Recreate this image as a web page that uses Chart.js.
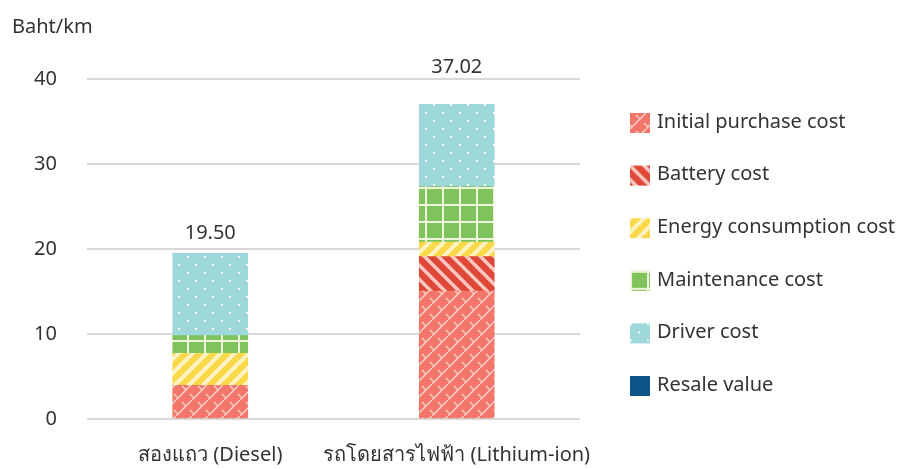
<!DOCTYPE html>
<html>
<head>
<meta charset="utf-8">
<script src="https://cdn.jsdelivr.net/npm/chart.js@4.4.1/dist/chart.umd.min.js"></script>
<style>
  html, body { margin: 0; padding: 0; background: #ffffff; }
  #wrap { width: 903px; height: 469px; position: relative; }
</style>
</head>
<body>
<div id="wrap"><canvas id="chart" width="903" height="469"></canvas></div>
<script>
// Cost per kilometre, Baht/km, stacked by cost component
const categories = ['สองแถว (Diesel)', 'รถโดยสารไฟฟ้า (Lithium-ion)'];
const initialPurchase = [3.92, 15.06];
const battery = [0, 4.04];
const energy = [3.81, 1.72];
const maintenance = [2.07, 6.51];
const driver = [9.70, 9.69];
const resale = [0, 0];
const totals = [19.50, 37.02];
const seriesNames = ['Initial purchase cost', 'Battery cost', 'Energy consumption cost',
                     'Maintenance cost', 'Driver cost', 'Resale value'];
const yTicks = [0, 10, 20, 30, 40];

const FONT = "'Noto Sans', 'DejaVu Sans', sans-serif";
const TEXT = '#333333';

function tile(w, h, bg, draw) {
  const c = document.createElement('canvas');
  c.width = w; c.height = h;
  const g = c.getContext('2d');
  g.fillStyle = bg;
  g.fillRect(0, 0, w, h);
  draw(g, w, h);
  return g.createPattern(c, 'repeat');
}

// diagonal brick lattice
const patInitial = tile(16, 16, '#f2766a', (g) => {
  g.strokeStyle = '#fbd0c8';
  g.lineWidth = 1.5;
  g.beginPath();
  g.moveTo(-2, 18); g.lineTo(18, -2);
  g.moveTo(-2, 10); g.lineTo(2, 14);
  g.moveTo(6, 2); g.lineTo(10, 6);
  g.moveTo(14, 10); g.lineTo(18, 14);
  g.stroke();
});
// wide falling stripes
const patBattery = tile(14, 14, '#df4739', (g) => {
  g.strokeStyle = '#f8c8c0';
  g.lineWidth = 3.5;
  g.beginPath();
  for (let k = -14; k <= 28; k += 14) { g.moveTo(k - 2, -2); g.lineTo(k + 16, 16); }
  g.stroke();
});
// rising stripes
const patEnergy = tile(14, 14, '#f9d84a', (g) => {
  g.strokeStyle = '#fff3c6';
  g.lineWidth = 4;
  g.beginPath();
  for (let k = -14; k <= 28; k += 14) { g.moveTo(k - 2, 16); g.lineTo(k + 16, -2); }
  g.stroke();
});
// grid
const patMaint = tile(17, 17, '#80c25b', (g) => {
  g.fillStyle = '#edf6da';
  g.fillRect(0, 0, 17, 2);
  g.fillRect(0, 0, 2, 17);
});
// staggered dots
const patDriver = tile(17, 16, '#9ed8da', (g) => {
  g.fillStyle = '#f4fbfb';
  g.fillRect(0, 0, 2, 2);
  g.fillRect(8, 8, 2, 2);
});

const fills = [patInitial, patBattery, patEnergy, patMaint, patDriver, '#0d5587'];
const seriesData = [initialPurchase, battery, energy, maintenance, driver, resale];

// totals above each stack, the unit caption, and the legend column on the right
const annotations = {
  id: 'annotations',
  afterDraw(chart) {
    const { ctx, scales, chartArea } = chart;
    ctx.save();
    ctx.font = '20px ' + FONT;
    ctx.fillStyle = TEXT;
    ctx.textAlign = 'center';
    ctx.textBaseline = 'middle';
    const lift = [20, 37];
    totals.forEach((t, i) => {
      const x = scales.x.getPixelForValue(i);
      const y = scales.y.getPixelForValue(t) - lift[i];
      ctx.fillText(t.toFixed(2), x, y);
    });
    ctx.textAlign = 'left';
    ctx.fillText('Baht/km', 12, 27);

    const boxX = chartArea.right + 50;
    const firstY = 123;
    const step = 52.6;
    chart.data.datasets.forEach((ds, i) => {
      const cy = firstY + i * step;
      ctx.fillStyle = ds.backgroundColor;
      ctx.save();
      ctx.translate(boxX, cy - 10);
      ctx.fillRect(0, 0, 20, 20);
      ctx.restore();
      ctx.fillStyle = TEXT;
      ctx.fillText(ds.label, boxX + 27, cy - 1);
    });
    ctx.restore();
  }
};

new Chart(document.getElementById('chart'), {
  type: 'bar',
  data: {
    labels: categories,
    datasets: seriesNames.map((name, i) => ({
      label: name,
      data: seriesData[i],
      backgroundColor: fills[i],
      borderWidth: 0,
      barThickness: 75
    }))
  },
  options: {
    responsive: false,
    animation: false,
    layout: { padding: { left: 34, top: 79, right: 323, bottom: 0 } },
    plugins: {
      legend: { display: false },
      tooltip: { enabled: false },
      title: { display: false }
    },
    scales: {
      x: {
        stacked: true,
        grid: { display: false },
        border: { display: false },
        afterFit(axis) { axis.height = 50; },
        ticks: {
          color: TEXT, font: { family: FONT, size: 20 }, padding: 16,
          maxRotation: 0, minRotation: 0, autoSkip: false
        }
      },
      y: {
        stacked: true,
        min: 0,
        max: 40,
        afterBuildTicks(axis) { axis.ticks = yTicks.map(v => ({ value: v })); },
        afterFit(axis) { axis.width = 53; },
        grid: { color: '#d9d9d9', lineWidth: 2, drawTicks: false },
        border: { display: false },
        ticks: { color: TEXT, font: { family: FONT, size: 20 }, padding: 30 }
      }
    }
  },
  plugins: [annotations]
});
</script>
</body>
</html>
